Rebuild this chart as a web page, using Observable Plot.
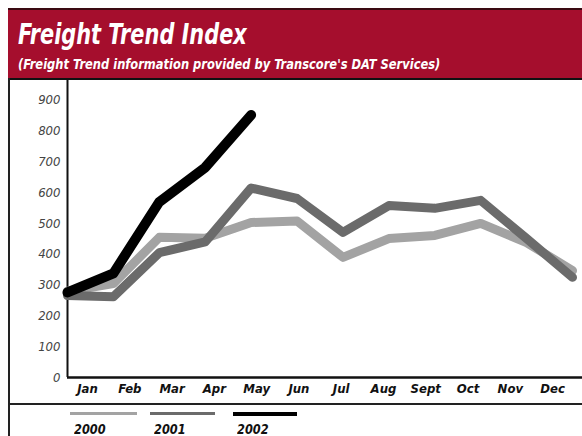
<!DOCTYPE html>
<html><head><meta charset="utf-8">
<script src="https://cdn.jsdelivr.net/npm/d3@7"></script>
<script src="https://cdn.jsdelivr.net/npm/@observablehq/plot@0.6"></script>
<style>
body{margin:0;background:#fff;}
#wrap{position:relative;width:582px;height:436px;overflow:hidden;font-family:"DejaVu Sans Condensed","Liberation Sans Narrow",sans-serif;}
#header{position:absolute;left:8px;top:8px;width:574px;height:68px;background:#a50e2d;border-top:2px solid #3a0a12;border-bottom:2px solid #111;}
#title{position:absolute;left:10px;top:10px;color:#fff;font-weight:bold;font-style:italic;font-size:29px;line-height:1;white-space:nowrap;transform:scaleX(0.8);transform-origin:0 0;}
#subtitle{position:absolute;left:10px;top:47px;color:#fff;font-weight:bold;font-style:italic;font-size:14.5px;line-height:1;white-space:nowrap;transform:scaleX(0.88);transform-origin:0 0;}
#chart{position:absolute;left:0;top:78px;}
#leftline{position:absolute;left:8px;top:78px;width:2px;height:358px;background:#222;}
#sep{position:absolute;left:8px;top:403px;width:574px;height:2px;background:#222;}
.lg-line{position:absolute;top:412px;}
.lg-text{position:absolute;top:422px;font-weight:bold;font-style:italic;font-size:14px;line-height:1;color:#111;transform:scaleX(0.9);transform-origin:0 0;}
</style>
</head><body>
<div id="wrap">
  <div id="header">
    <div id="title">Freight Trend Index</div>
    <div id="subtitle">(Freight Trend information provided by Transcore's DAT Services)</div>
  </div>
  <div id="leftline"></div>
  <div id="chart"></div>
  <div id="sep"></div>
  <div id="legend"></div>
</div>
<script>
const months = ["Jan","Feb","Mar","Apr","May","Jun","Jul","Aug","Sept","Oct","Nov","Dec"];
const years = ["2000","2001","2002"];
const y2000 = [280, 305, 455, 452, 503, 508, 390, 451, 461, 500, 438, 347];
const y2001 = [266, 262, 405, 440, 615, 581, 471, 558, 549, 575, 451, 325];
const y2002 = [276, 338, 570, 682, 852];
const yTicks = [0,100,200,300,400,500,600,700,800,900];
const colors = ["#a3a3a3", "#6b6b6b", "#000000"];
const widths = [9, 9, 10];
const seriesValues = [y2000, y2001, y2002];

const data = seriesValues.flatMap((vals, s) => vals.map((v, i) => ({year: years[s], i, v})));

const labelStart = 0.436, labelStep = 0.921;

const marks = [
  Plot.axisY(yTicks, {tickSize: 0, tickPadding: 7, fontSize: 13, fontStyle: "italic", fill: "#444", label: null}),
  Plot.ruleX([0], {stroke: "#111", strokeWidth: 2}),
  Plot.ruleY([0], {stroke: "#111", strokeWidth: 2.5}),
  ...years.map((yr, s) => Plot.line(data.filter(d => d.year === yr), {
    x: "i", y: "v", stroke: colors[s], strokeWidth: widths[s],
    strokeLinejoin: "round", strokeLinecap: "round"
  })),
  Plot.text(months, {
    x: (d, i) => labelStart + i * labelStep,
    frameAnchor: "bottom", dy: 15, fontSize: 13, fontWeight: "bold", fontStyle: "italic", fill: "#111"
  })
];

const chart = Plot.plot({
  width: 582, height: 326,
  marginLeft: 67, marginRight: 0, marginTop: 2, marginBottom: 27,
  x: {domain: [0, 11], range: [67, 572], axis: null},
  y: {domain: [0, 964], axis: null},
  style: {fontFamily: '"DejaVu Sans Condensed","Liberation Sans Narrow",sans-serif', background: "transparent", overflow: "visible"},
  marks
});
document.getElementById("chart").appendChild(chart);

// legend
const legend = document.getElementById("legend");
const lgX = [70, 150, 233];
const lgW = [67, 65, 64];
years.forEach((yr, s) => {
  const l = document.createElement("div");
  l.className = "lg-line";
  l.style.left = lgX[s] + "px";
  l.style.width = lgW[s] + "px";
  l.style.height = (s === 2 ? 4 : 3) + "px";
  l.style.background = colors[s];
  legend.appendChild(l);
  const t = document.createElement("div");
  t.className = "lg-text";
  t.style.left = (lgX[s] + 4) + "px";
  t.textContent = yr;
  legend.appendChild(t);
});
</script>
</body></html>
